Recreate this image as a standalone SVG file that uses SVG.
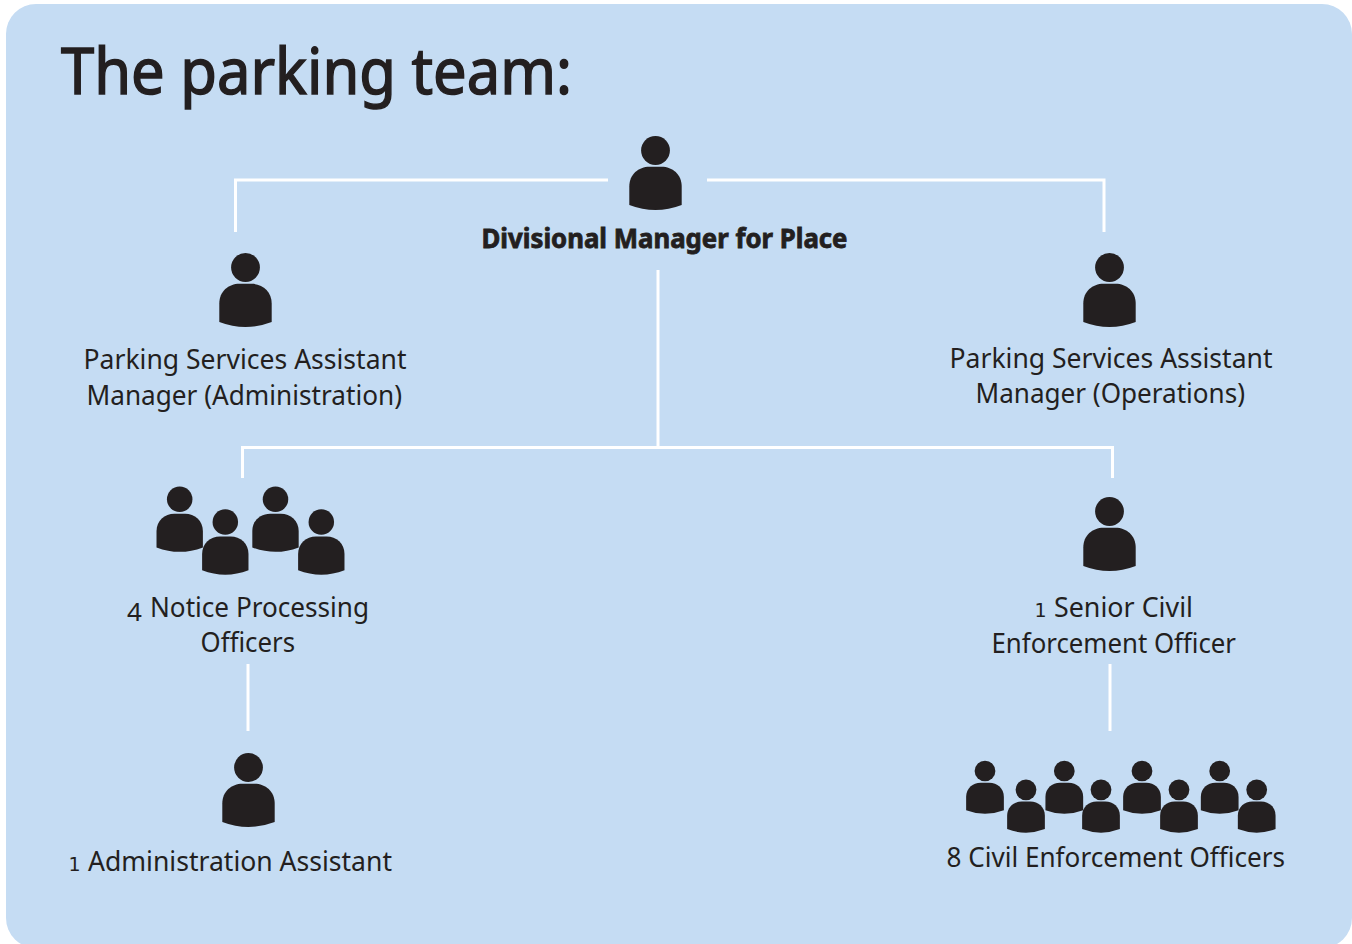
<svg xmlns="http://www.w3.org/2000/svg" width="1352" height="944" viewBox="0 0 1352 944">
<style>
text{font-family:"Noto Sans","Open Sans",sans-serif;fill:#231f20;font-size:27px}
.title{font-size:64px;stroke:#231f20;stroke-width:1.5}
.boss{font-family:"Noto Sans","Open Sans",sans-serif;font-weight:700;font-size:26px;stroke:#231f20;stroke-width:.8}
.num{font-family:"DejaVu Sans",sans-serif;font-size:19px}
.four{font-size:26px}
#connectors path{fill:none;stroke:#fff;stroke-width:3}
</style>
<defs>
<symbol id="person" overflow="visible">
<circle cx="0" cy="0" r="14.4" fill="#231f20"/>
<path d="M-26.2,36 C-26.2,24 -17,16.3 -6,16.3 H6 C17,16.3 26.2,24 26.2,36 V54.5 Q0,64.5 -26.2,54.5 Z" fill="#231f20"/>
</symbol>
</defs>
<rect id="panel" x="6" y="4" width="1346" height="944" rx="30" fill="#c5dcf3"/>
<text class="title" x="61" y="94" textLength="511" lengthAdjust="spacingAndGlyphs">The parking team:</text>
<g id="connectors">
<path d="M608,180H235.5V232"/>
<path d="M707,180H1104V232"/>
<path d="M658,270V447.5"/>
<path d="M242.5,478V447.5H1112.5V478"/>
<path d="M248,664V731"/>
<path d="M1110,664V731"/>
</g>
<g id="divisional-manager">
<use href="#person" x="655.5" y="150.5"/>
<text class="boss" x="481.5" y="247.5" textLength="366" lengthAdjust="spacingAndGlyphs">Divisional Manager for Place</text>
</g>
<g id="assistant-manager-admin">
<use href="#person" x="245.5" y="267.5"/>
<text x="83.5" y="369" textLength="323" lengthAdjust="spacingAndGlyphs">Parking Services Assistant</text>
<text x="86.5" y="405" textLength="315.5" lengthAdjust="spacingAndGlyphs">Manager (Administration)</text>
</g>
<g id="assistant-manager-ops">
<use href="#person" x="1109.5" y="267.5"/>
<text x="949.5" y="368" textLength="323" lengthAdjust="spacingAndGlyphs">Parking Services Assistant</text>
<text x="975.5" y="403" textLength="269.5" lengthAdjust="spacingAndGlyphs">Manager (Operations)</text>
</g>
<g id="notice-processing-officers">
<use href="#person" transform="translate(179.7 499.2) scale(.885)"/>
<use href="#person" transform="translate(225.3 522.1) scale(.885)"/>
<use href="#person" transform="translate(275.5 499.2) scale(.885)"/>
<use href="#person" transform="translate(321.3 522.1) scale(.885)"/>
<text y="617"><tspan class="four" x="127" y="621">4</tspan> <tspan x="150" y="617" textLength="219" lengthAdjust="spacingAndGlyphs">Notice Processing</tspan></text>
<text x="200.5" y="652" textLength="94.5" lengthAdjust="spacingAndGlyphs">Officers</text>
</g>
<g id="senior-civil-enforcement-officer">
<use href="#person" x="1109.5" y="511.5"/>
<text y="617"><tspan class="num" x="1034.5">1</tspan> <tspan x="1054" textLength="139" lengthAdjust="spacingAndGlyphs">Senior Civil</tspan></text>
<text x="991.5" y="653" textLength="244.5" lengthAdjust="spacingAndGlyphs">Enforcement Officer</text>
</g>
<g id="administration-assistant">
<use href="#person" x="248.5" y="767.5"/>
<text y="871"><tspan class="num" x="68.5">1</tspan> <tspan x="88" textLength="304" lengthAdjust="spacingAndGlyphs">Administration Assistant</tspan></text>
</g>
<g id="civil-enforcement-officers">
<use href="#person" transform="translate(985 771) scale(.72)"/>
<use href="#person" transform="translate(1026 789.8) scale(.72)"/>
<use href="#person" transform="translate(1064.3 771) scale(.72)"/>
<use href="#person" transform="translate(1101 789.8) scale(.72)"/>
<use href="#person" transform="translate(1142 771) scale(.72)"/>
<use href="#person" transform="translate(1179 789.8) scale(.72)"/>
<use href="#person" transform="translate(1219.7 771) scale(.72)"/>
<use href="#person" transform="translate(1256.7 789.8) scale(.72)"/>
<text x="946.5" y="867" textLength="338.5" lengthAdjust="spacingAndGlyphs">8 Civil Enforcement Officers</text>
</g>
</svg>
